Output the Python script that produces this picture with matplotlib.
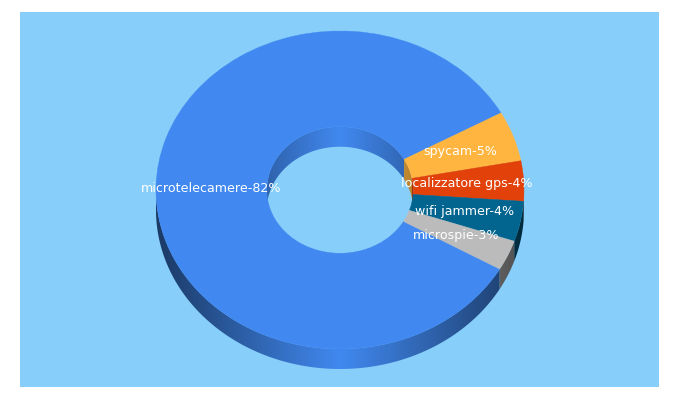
import numpy as np
import matplotlib
matplotlib.use("Agg")
import matplotlib.pyplot as plt
from matplotlib.colors import to_rgb
from matplotlib.patches import Polygon, Rectangle

categories = ["microtelecamere", "spycam", "localizzatore gps", "wifi jammer", "microspie"]
values = [82, 5, 4, 4, 3]
colors = ["#4189F0", "#FFB53F", "#E2410A", "#02658F", "#BBBBBB"]
label_px = [(211, 188), (460, 152), (467, 184), (465, 212), (456, 236)]

W, H = 680, 400
CX, CY, RX, RY = 340, 190, 184, 159
DEPTH = 20 / RY
HOLE = 0.398
START = -29.8
BG = "#87CEFA"

fig = plt.figure(figsize=(W / 100, H / 100), dpi=100, facecolor="white")
ax = fig.add_axes([0, 0, 1, 1])


def ux(px):
    return (px - CX) / RX


def uy(py):
    return (CY - py) / RY


panel = Rectangle((ux(20), uy(387)), 639 / RX, 375 / RY, facecolor=BG, edgecolor="none", zorder=0)
ax.add_patch(panel)

# slice angle spans, clockwise from the start angle
fracs = np.array(values) / np.sum(values) * 360
edges = START - np.concatenate([[0], np.cumsum(fracs)])


def wall(radius, a0, a1, low, zorder):
    """Side wall of the ring between angles a0..a1 (deg, increasing), one gradient per slice."""
    for i, col in enumerate(colors):
        for shift in (0, 360, 720):
            hi, lo = edges[i] + shift, edges[i + 1] + shift
            s, e = max(lo, a0), min(hi, a1)
            if e <= s:
                continue
            t = np.radians(np.linspace(s, e, 120))
            top = np.column_stack([radius * np.cos(t), radius * np.sin(t)])
            bot = top[::-1] - [0, DEPTH]
            poly = Polygon(np.vstack([top, bot]), closed=True, transform=ax.transData,
                           facecolor="none", edgecolor="none")
            ax.add_patch(poly)
            xs = np.linspace(-radius, radius, 600)
            f = low + (1 - low) * (1 - np.abs(xs) / radius)
            img = np.outer(f, to_rgb(col)).reshape(1, -1, 3)
            im = ax.imshow(img, extent=(-radius, radius, -radius - DEPTH - 0.02, radius + 0.02),
                           aspect="auto", zorder=zorder, interpolation="bilinear")
            im.set_clip_path(poly)


wall(1.0, 180, 360, 0.42, 1)

# the wall inside the hole sits under the ring's top surface
wall(HOLE, 0, 180, 0.72, 3)

wedges, _ = ax.pie(values, colors=colors, startangle=START, counterclock=False,
                   radius=1, center=(0, 0), frame=True,
                   wedgeprops=dict(width=1 - HOLE, linewidth=0.3, zorder=4))
for w, c in zip(wedges, colors):
    w.set_edgecolor(c)

for name, val, (px, py) in zip(categories, values, label_px):
    ax.text(ux(px), uy(py), f"{name}-{val}%", color="white", fontsize=9.1,
            family="DejaVu Sans", ha="center", va="center", zorder=5)

ax.set_aspect("auto")
ax.set_xlim(ux(0), ux(W))
ax.set_ylim(uy(H), uy(0))
ax.axis("off")
fig.savefig("out.png", dpi=100, facecolor="white")
